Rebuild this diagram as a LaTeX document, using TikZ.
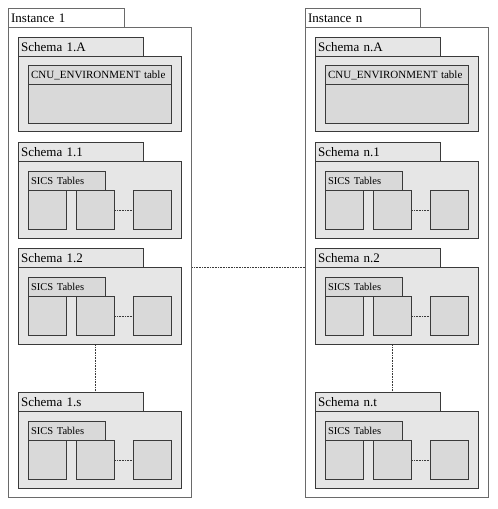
\documentclass[tikz,border=0pt]{standalone}
\usepackage{fontspec}
\setmainfont{Liberation Serif}
\definecolor{schemafill}{HTML}{E6E6E6}
\definecolor{boxfill}{HTML}{D9D9D9}
\definecolor{instborder}{HTML}{6A6A6A}
\definecolor{darkborder}{HTML}{3A3A3A}
\tikzset{
  box/.style={draw=darkborder, line width=1.3pt, anchor=north west, inner ysep=0pt, inner xsep=2.5pt, align=left},
  insttab/.style={box, draw=instborder, fill=white, font=\fontsize{13}{14}\selectfont},
  instbody/.style={box, draw=instborder, fill=white},
  schtab/.style={box, fill=schemafill, font=\fontsize{13}{14}\selectfont},
  schbody/.style={box, fill=schemafill},
  tabletab/.style={box, fill=boxfill, font=\fontsize{10.5}{12}\selectfont},
  tablebox/.style={box, fill=boxfill},
  dotline/.style={draw=darkborder, line width=0.8pt, dash pattern=on 0.8pt off 0.8pt},
}
\newcommand\mkbox[6]{% style, name, x, y, w, h, text via \mkboxtext
  \node[#1, minimum width=#5pt, text width=#5pt-5pt, minimum height=#6pt] (#2) at (#3,#4) {\mkboxtext};}
\newcommand\mkboxtext{}
\newcommand\sicsschema[4]{% prefix, X, Y, label
  \renewcommand\mkboxtext{#4}\mkbox{schtab}{#1tab}{#2}{#3}{125}{19}
  \renewcommand\mkboxtext{}\mkbox{schbody}{#1body}{#2}{#3+19}{163}{77}
  \renewcommand\mkboxtext{SICS Tables}\mkbox{tabletab}{#1sics}{#2+10}{#3+29}{77}{19}
  \renewcommand\mkboxtext{}\mkbox{tablebox}{#1boxa}{#2+10}{#3+48}{38}{39}
  \mkbox{tablebox}{#1boxb}{#2+58}{#3+48}{38}{39}
  \mkbox{tablebox}{#1boxc}{#2+115}{#3+48}{38}{39}
  \draw[dotline] (#1boxb.east) -- (#1boxc.west);}
\newcommand\cnuschema[4]{% prefix, X, Y, label
  \renewcommand\mkboxtext{#4}\mkbox{schtab}{#1tab}{#2}{#3}{125}{19}
  \renewcommand\mkboxtext{}\mkbox{schbody}{#1body}{#2}{#3+19}{163}{75}
  \mkbox{tablebox}{#1cnubody}{#2+10}{#3+28}{143}{58}
  \renewcommand\mkboxtext{\fontsize{11}{12}\selectfont CNU\_ENVIRONMENT table}\mkbox{tabletab}{#1cnu}{#2+10}{#3+28}{143}{19}}
\begin{document}
\begin{tikzpicture}[x=1pt,y=-1pt]
\useasboundingbox (0,0) rectangle (498,509);
% Instance 1
\renewcommand\mkboxtext{}\mkbox{instbody}{ionebody}{8}{27}{183}{470}
\renewcommand\mkboxtext{Instance 1}\mkbox{insttab}{ionetab}{8}{8}{116}{19}
\cnuschema{sa}{18}{37}{Schema 1.A}
\sicsschema{sb}{18}{142}{Schema 1.1}
\sicsschema{sc}{18}{248}{Schema 1.2}
\sicsschema{sd}{18}{392}{Schema 1.s}
\draw[dotline] (scboxb.center |- scbody.south) -- (scboxb.center |- sdtab.north);
% Instance n
\renewcommand\mkboxtext{}\mkbox{instbody}{inbody}{305}{27}{183}{470}
\renewcommand\mkboxtext{Instance n}\mkbox{insttab}{intab}{305}{8}{115}{19}
\cnuschema{ta}{315}{37}{Schema n.A}
\sicsschema{tb}{315}{142}{Schema n.1}
\sicsschema{tc}{315}{248}{Schema n.2}
\sicsschema{td}{315}{392}{Schema n.t}
\draw[dotline] (tcboxb.center |- tcbody.south) -- (tcboxb.center |- tdtab.north);
% link between instances
\draw[dotline] (ionebody.east |- scbody.north) -- (inbody.west |- scbody.north);
\end{tikzpicture}
\end{document}
